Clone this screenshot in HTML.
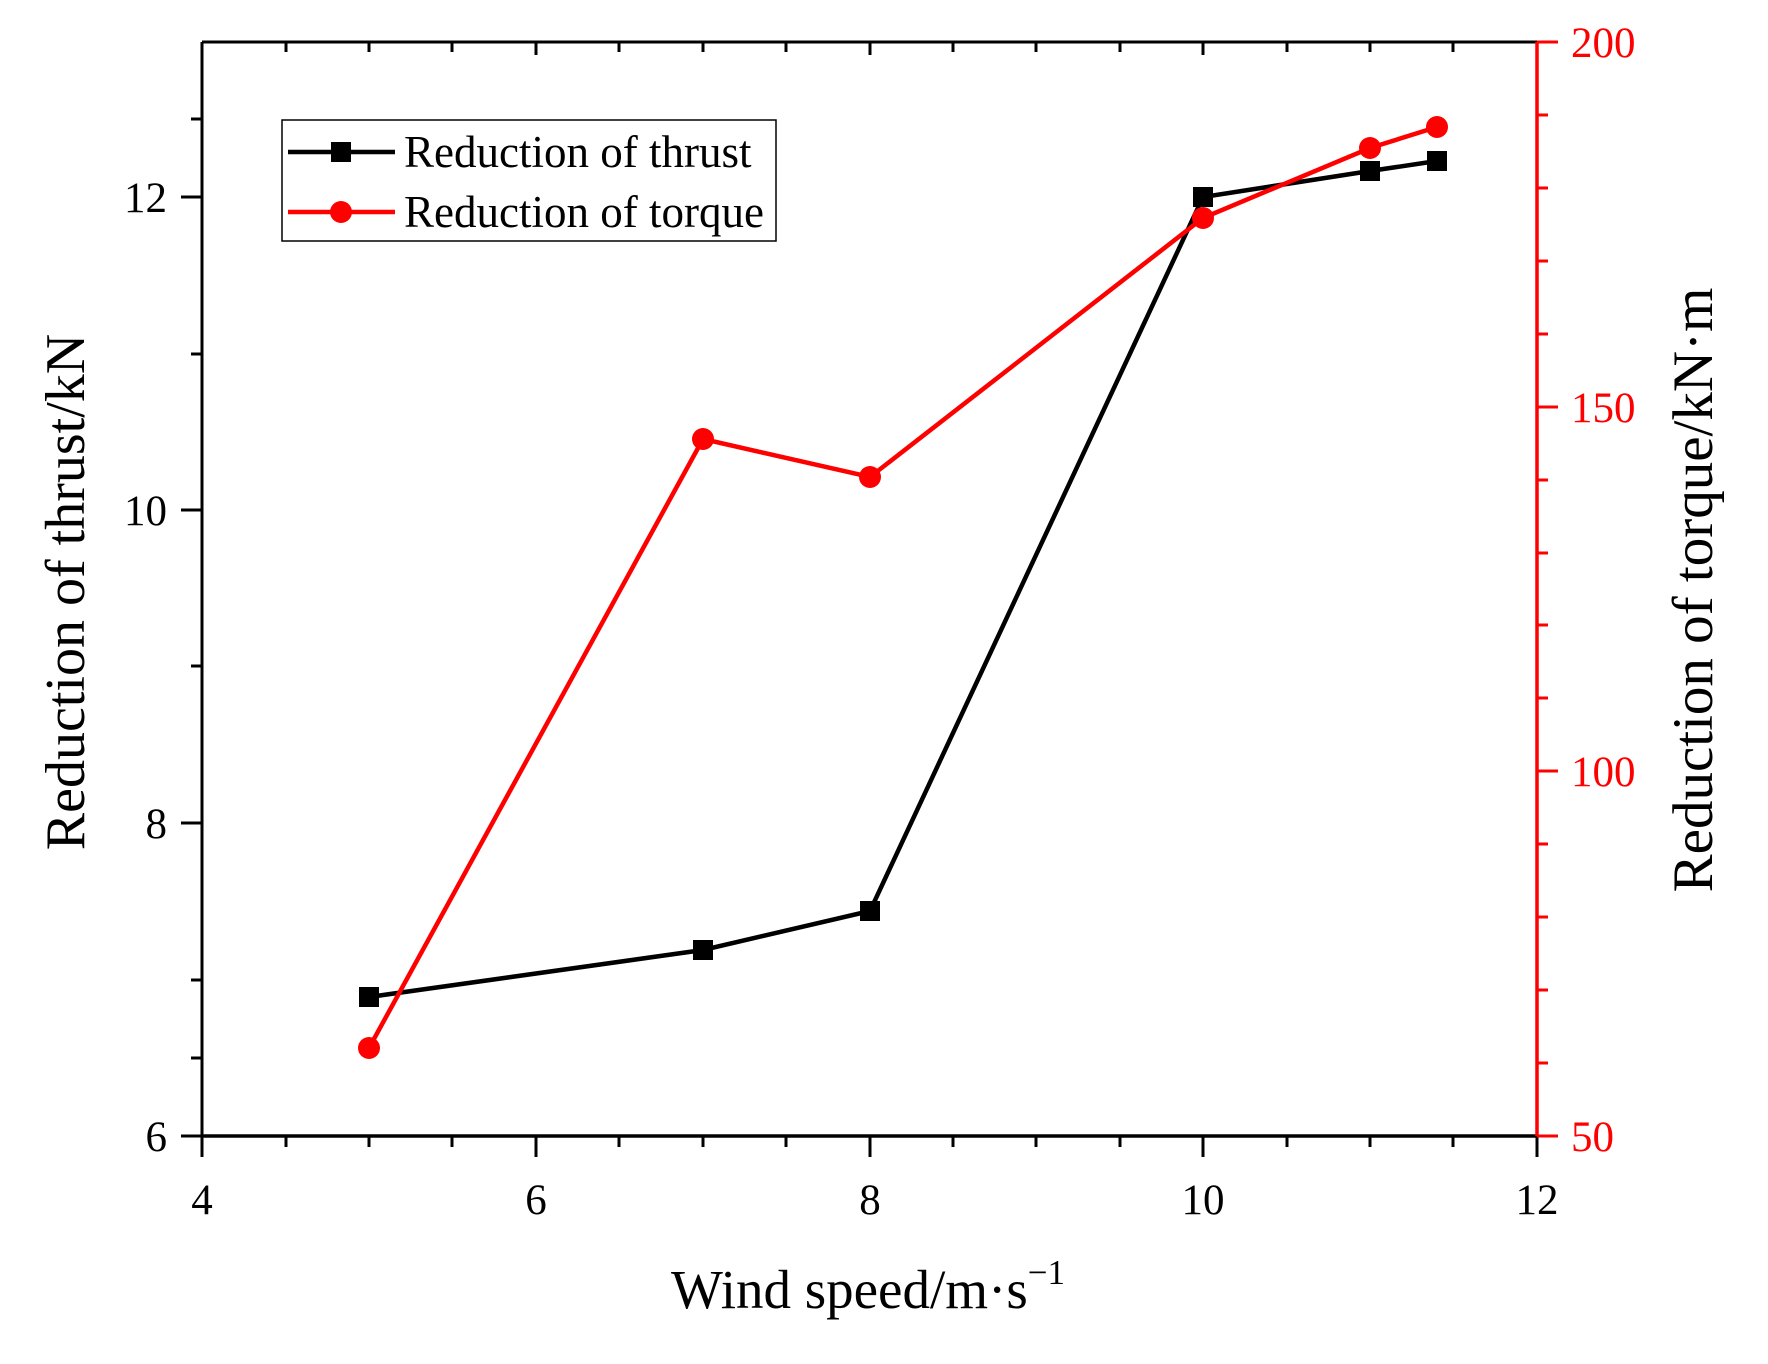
<!DOCTYPE html>
<html><head><style>body{margin:0;background:#fff}svg{display:block}</style></head><body>
<svg width="1768" height="1364" xmlns="http://www.w3.org/2000/svg" font-family="Liberation Serif, serif">
<rect width="1768" height="1364" fill="#fff"/>
<line x1="202" y1="42" x2="1537" y2="42" stroke="#000" stroke-width="3"/>
<line x1="202" y1="42" x2="202" y2="1136" stroke="#000" stroke-width="3"/>
<line x1="202" y1="1136" x2="1537" y2="1136" stroke="#000" stroke-width="3.5"/>
<line x1="1537" y1="42" x2="1537" y2="1136" stroke="#f00" stroke-width="3.5"/>
<g stroke="#000" stroke-width="3">
<line x1="202" y1="1136" x2="202" y2="1157"/><line x1="536" y1="1136" x2="536" y2="1157"/><line x1="870" y1="1136" x2="870" y2="1157"/><line x1="1203" y1="1136" x2="1203" y2="1157"/><line x1="1537" y1="1136" x2="1537" y2="1157"/>
<line x1="286" y1="1136" x2="286" y2="1147"/><line x1="369" y1="1136" x2="369" y2="1147"/><line x1="452" y1="1136" x2="452" y2="1147"/><line x1="619" y1="1136" x2="619" y2="1147"/><line x1="703" y1="1136" x2="703" y2="1147"/><line x1="786" y1="1136" x2="786" y2="1147"/><line x1="953" y1="1136" x2="953" y2="1147"/><line x1="1036" y1="1136" x2="1036" y2="1147"/><line x1="1120" y1="1136" x2="1120" y2="1147"/><line x1="1287" y1="1136" x2="1287" y2="1147"/><line x1="1370" y1="1136" x2="1370" y2="1147"/><line x1="1453" y1="1136" x2="1453" y2="1147"/>
<line x1="286" y1="42" x2="286" y2="52"/><line x1="369" y1="42" x2="369" y2="52"/><line x1="452" y1="42" x2="452" y2="52"/><line x1="536" y1="42" x2="536" y2="55"/><line x1="619" y1="42" x2="619" y2="52"/><line x1="703" y1="42" x2="703" y2="52"/><line x1="786" y1="42" x2="786" y2="52"/><line x1="870" y1="42" x2="870" y2="55"/><line x1="953" y1="42" x2="953" y2="52"/><line x1="1036" y1="42" x2="1036" y2="52"/><line x1="1120" y1="42" x2="1120" y2="52"/><line x1="1203" y1="42" x2="1203" y2="55"/><line x1="1287" y1="42" x2="1287" y2="52"/><line x1="1370" y1="42" x2="1370" y2="52"/><line x1="1453" y1="42" x2="1453" y2="52"/>
<line x1="181" y1="1136" x2="202" y2="1136"/><line x1="181" y1="823" x2="202" y2="823"/><line x1="181" y1="510" x2="202" y2="510"/><line x1="181" y1="197" x2="202" y2="197"/>
<line x1="191" y1="1058" x2="202" y2="1058"/><line x1="191" y1="980" x2="202" y2="980"/><line x1="191" y1="666" x2="202" y2="666"/><line x1="191" y1="354" x2="202" y2="354"/><line x1="191" y1="119" x2="202" y2="119"/>
</g>
<g stroke="#f00" stroke-width="3">
<line x1="1537" y1="42" x2="1558" y2="42"/><line x1="1537" y1="407" x2="1558" y2="407"/><line x1="1537" y1="771" x2="1558" y2="771"/><line x1="1537" y1="1136" x2="1558" y2="1136"/>
<line x1="1537" y1="115" x2="1548" y2="115"/><line x1="1537" y1="188" x2="1548" y2="188"/><line x1="1537" y1="261" x2="1548" y2="261"/><line x1="1537" y1="334" x2="1548" y2="334"/>
<line x1="1537" y1="480" x2="1548" y2="480"/><line x1="1537" y1="553" x2="1548" y2="553"/><line x1="1537" y1="625" x2="1548" y2="625"/><line x1="1537" y1="698" x2="1548" y2="698"/>
<line x1="1537" y1="844" x2="1548" y2="844"/><line x1="1537" y1="917" x2="1548" y2="917"/><line x1="1537" y1="990" x2="1548" y2="990"/><line x1="1537" y1="1063" x2="1548" y2="1063"/>
</g>
<g font-size="43" fill="#000" text-anchor="middle">
<text x="202" y="1214">4</text><text x="536" y="1214">6</text><text x="870" y="1214">8</text><text x="1203" y="1214">10</text><text x="1537" y="1214">12</text>
</g>
<g font-size="43" fill="#000" text-anchor="end">
<text x="167" y="1151">6</text><text x="167" y="838">8</text><text x="167" y="525">10</text><text x="167" y="212">12</text>
</g>
<g font-size="43" fill="#f00">
<text x="1571" y="1151">50</text><text x="1571" y="786">100</text><text x="1571" y="422">150</text><text x="1571" y="57">200</text>
</g>
<text x="868" y="1308" font-size="55" text-anchor="middle">Wind speed/m·s<tspan dy="-24" font-size="35">−1</tspan></text>
<text transform="translate(84,592) rotate(-90)" font-size="56" text-anchor="middle">Reduction of thrust/kN</text>
<text transform="translate(1712,590) rotate(-90)" font-size="57" text-anchor="middle">Reduction of torque/kN·m</text>
<polyline fill="none" stroke="#000" stroke-width="4.5" points="369,997 703,950 870,911 1203,197 1370,171 1437,161"/>
<g fill="#000">
<rect x="359" y="987" width="20" height="20"/><rect x="693" y="940" width="20" height="20"/><rect x="860" y="901" width="20" height="20"/><rect x="1193" y="187" width="20" height="20"/><rect x="1360" y="161" width="20" height="20"/><rect x="1427" y="151" width="20" height="20"/>
</g>
<polyline fill="none" stroke="#f00" stroke-width="4.5" points="369,1048 703,439 870,477 1203,218 1370,148 1437,127"/>
<g fill="#f00">
<circle cx="369" cy="1048" r="11"/><circle cx="703" cy="439" r="11"/><circle cx="870" cy="477" r="11"/><circle cx="1203" cy="218" r="11"/><circle cx="1370" cy="148" r="11"/><circle cx="1437" cy="127" r="11"/>
</g>
<rect x="282" y="120" width="494" height="121" fill="#fff" stroke="#000" stroke-width="1.5"/>
<line x1="288" y1="152" x2="395" y2="152" stroke="#000" stroke-width="4.5"/>
<rect x="331" y="142" width="20" height="20" fill="#000"/>
<text x="404" y="167" font-size="45">Reduction of thrust</text>
<line x1="288" y1="212" x2="395" y2="212" stroke="#f00" stroke-width="4.5"/>
<circle cx="341" cy="212" r="11" fill="#f00"/>
<text x="404" y="227" font-size="45">Reduction of torque</text>
</svg>
</body></html>
